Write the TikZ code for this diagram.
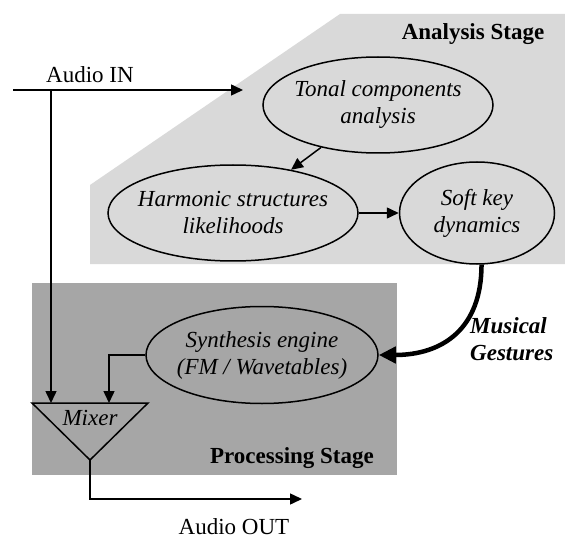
\documentclass[tikz,border=0pt]{standalone}
\usepackage{fontspec}
\setmainfont{Liberation Serif}
\usetikzlibrary{shapes.geometric,arrows.meta}
\definecolor{analysisgray}{RGB}{217,217,217}
\definecolor{processgray}{RGB}{166,166,166}
\tikzstyle{block}=[ellipse, draw, line width=1.5pt, inner xsep=-80pt, inner ysep=-30pt, align=center, font=\fontsize{23}{27}\selectfont\itshape]
\tikzstyle{flow}=[line width=1.5pt, -{Triangle[length=12pt,width=11pt]}]
\tikzstyle{gesture}=[line width=4.5pt, -{Triangle[length=17pt,width=16pt]}]
\tikzstyle{txt}=[inner sep=0pt, font=\fontsize{23}{27}\selectfont]
\tikzstyle{stagename}=[inner sep=0pt, font=\fontsize{23}{27}\selectfont\bfseries]

\begin{document}
\begin{tikzpicture}[x=1pt, y=-1pt]
    \useasboundingbox (0,0) rectangle (565,540);
    % stages
    \fill[analysisgray]  (90,185) -- (340,14) -- (565,14) -- (565,264) -- (90,264) -- cycle;
    \fill[processgray]   (32,283) rectangle (397,475);
    \node[stagename, anchor=base] (analysis) at (473,40)  {Analysis Stage};
    \node[stagename, anchor=base] (process)  at (292,463) {Processing Stage};

    \node[block, minimum width=230pt, minimum height=96pt]  (tonal) at (378,105) {Tonal components\\analysis};
    \node[block, minimum width=250pt, minimum height=96pt]  (harm)  at (233,213) {Harmonic structures\\likelihoods};
    \node[block, minimum width=155pt, minimum height=102pt] (soft)  at (477,213) {Soft key\\dynamics};
    \node[block, minimum width=232pt, minimum height=97pt]  (synth) at (262,355) {Synthesis engine\\(FM / Wavetables)};

    % mixer
    \draw[line width=1.5pt, line join=miter] (32,403) -- (148,403) -- (90,460) -- cycle;
    \node[txt, font=\fontsize{23}{27}\selectfont\itshape, anchor=base] (mixer) at (90,425) {Mixer};
    \coordinate (mixin1) at (51,403);
    \coordinate (mixin2) at (109,403);
    \coordinate (mixout) at (90,460);

    % audio in / out
    \coordinate (in)    at (13,90);
    \coordinate (split) at (51,90);
    \coordinate (intip) at (243,90);
    \coordinate (outtip) at (302,499);
    \node[txt, anchor=base] (audioin)  at (90,83)  {Audio IN};
    \node[txt, anchor=base] (audioout) at (234,534) {Audio OUT};

    \draw[flow]  (in)--(intip);
    \draw[flow]  (split)--(mixin1);
    \draw[flow]  (tonal)--(harm);
    \draw[flow]  (harm)--(soft);
    \draw[flow]  (synth.west) -| (mixin2);
    \draw[flow]  (mixout) |- (outtip);
    \draw[gesture] (soft.-85) to[out=-90, in=0, looseness=1.2] (synth.east);
    \node[txt, font=\fontsize{23}{27}\selectfont\bfseries\itshape, align=left, anchor=west] (gestures) at (470,339) {Musical\\Gestures};
\end{tikzpicture}
\end{document}
